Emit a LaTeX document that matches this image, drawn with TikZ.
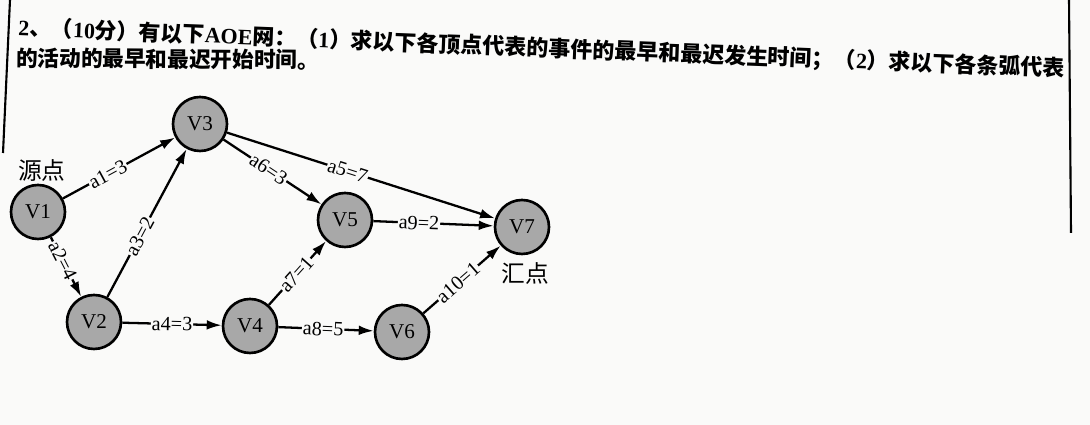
\documentclass[tikz,border=0pt]{standalone}
\usepackage{fontspec}
\setmainfont{Liberation Serif}
\newfontfamily\cjk{Noto Sans CJK SC}
\usetikzlibrary{arrows.meta}
\definecolor{paper}{RGB}{250,250,249}
\definecolor{fgray}{RGB}{168,168,168}

\begin{document}
\begin{tikzpicture}
                \fill [paper] (0,0) rectangle (21.8,8.5);
                \useasboundingbox (0,0) rectangle (21.8,8.5);

                \draw [line width=1.2pt] (0.2,8.5) -- (0.06,5.44);
                \draw [line width=1.2pt] (21.38,8.5) -- (21.42,3.84);

                \node[anchor=west, rotate=-2.25, inner sep=0pt, font=\fontsize{12.5}{15}\selectfont\bfseries] (T1) at (0.36,7.94) {2{\cjk 、（}10{\cjk 分）有以下}AOE{\cjk 网：（}1{\cjk ）求以下各顶点代表的事件的最早和最迟发生时间；（}2{\cjk ）求以下各条弧代表}};
                \node[anchor=west, rotate=-0.4, inner sep=0pt, font=\fontsize{12.3}{15}\selectfont\bfseries] (T2) at (0.32,7.34) {\cjk 的活动的最早和最迟开始时间。};

                \tikzstyle{vertex}=[circle, draw, line width=1.5pt, fill=fgray, minimum size=1.08cm, inner sep=0pt, font=\fontsize{12}{14}\selectfont]
                \node[vertex] (V1) at (0.76,4.26) {V1};
                \node[vertex] (V2) at (1.88,2.06) {V2};
                \node[vertex] (V3) at (4.00,6.02) {V3};
                \node[vertex] (V4) at (5.00,1.98) {V4};
                \node[vertex] (V5) at (6.90,4.10) {V5};
                \node[vertex] (V6) at (8.04,1.86) {V6};
                \node[vertex] (V7) at (10.44,3.96) {V7};

                \node[font=\cjk\fontsize{13.5}{15}\selectfont] (src) at (0.84,5.10) {源点};
                \node[font=\cjk\fontsize{13.5}{15}\selectfont] (snk) at (10.50,3.04) {汇点};

                \tikzstyle{bind}=[-{Latex[length=8.5pt,width=5.5pt]}, line width=1.3pt]
                \tikzstyle{w}=[sloped, fill=paper, inner sep=0.5pt, font=\fontsize{11.5}{13}\selectfont]

                \draw[bind] (V1) -- node[w, pos=0.40] {a1=3} (V3);
                \draw[bind] (V1) -- node[w, pos=0.39] {a2=4} (V2);
                \draw[bind] (V2) -- node[w, pos=0.41] {a3=2} (V3);
                \draw[bind] (V2) -- node[w, pos=0.50] {a4=3} (V4);
                \draw[bind] (V3) -- node[w, pos=0.45] {a5=7} (V7);
                \draw[bind] (V3) -- node[w, pos=0.46] {a6=3} (V5);
                \draw[bind] (V4) -- node[w, pos=0.48] {a7=1} (V5);
                \draw[bind] (V4) -- node[w, pos=0.47] {a8=5} (V6);
                \draw[bind] (V5) -- node[w, pos=0.38] {a9=2} (V7);
                \draw[bind] (V6) -- node[w, pos=0.45] {a10=1} (V7);
            \end{tikzpicture}
\end{document}
